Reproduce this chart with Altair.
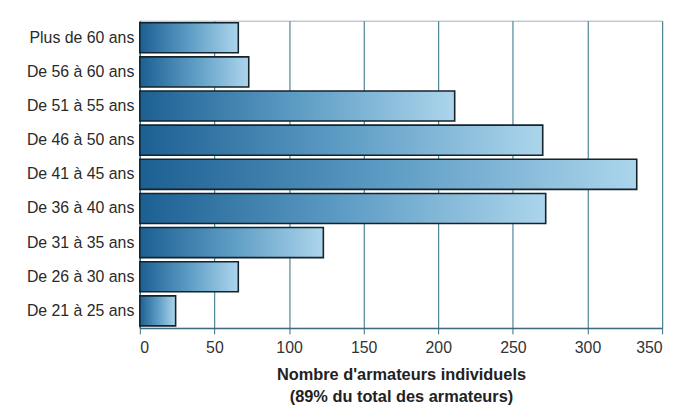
import altair as alt
import pandas as pd

categories = ["Plus de 60 ans", "De 56 à 60 ans", "De 51 à 55 ans", "De 46 à 50 ans",
              "De 41 à 45 ans", "De 36 à 40 ans", "De 31 à 35 ans", "De 26 à 30 ans",
              "De 21 à 25 ans"]
values = [66, 73, 211, 270, 333, 272, 123, 66, 24]
x_ticks = [0, 50, 100, 150, 200, 250, 300, 350]

df = pd.DataFrame({"cat": categories, "val": values})

grad = alt.Gradient(
    gradient="linear",
    stops=[alt.GradientStop(color="#1c5f92", offset=0),
           alt.GradientStop(color="#5d9cc4", offset=0.5),
           alt.GradientStop(color="#acd5ec", offset=1)],
    x1=0, x2=1, y1=0, y2=0,
)

chart = alt.Chart(df).mark_bar(
    color=grad, stroke="#15232b", strokeWidth=1.6
).encode(
    x=alt.X("val:Q",
            scale=alt.Scale(domain=[0, 350], nice=False),
            axis=alt.Axis(values=x_ticks, title=["Nombre d'armateurs individuels", "(89% du total des armateurs)"],
                          titleFontWeight="bold", titleFontSize=16.5, titleColor="#222222",
                          titleFont="Liberation Sans", titleLineHeight=22, titlePadding=11,
                          labelFont="Liberation Sans", labelFontSize=16, labelColor="#333333",
                          labelPadding=6, tickSize=6, tickColor="#3d6a7e", domainColor="#3d6a7e",
                          domainWidth=1.5, gridColor="#4f8398", gridWidth=1.2, grid=True,
                          gridOpacity=1)),
    y=alt.Y("cat:N", sort=categories,
            scale=alt.Scale(paddingInner=0.12, paddingOuter=0.06),
            axis=alt.Axis(title=None, labelFont="Liberation Sans", labelFontSize=16,
                          labelColor="#2a2a2a", ticks=False, labelPadding=6,
                          domainColor="#3d6a7e", domainWidth=1.5, grid=False)),
).properties(
    width=527, height=310,
    autosize=alt.AutoSizeParams(type="none"),
    padding={"left": 133, "top": 11, "right": 12, "bottom": 81},
).configure_view(stroke="#9ab2bd", strokeWidth=1)

chart.save("out.html", embed_options={"renderer": "svg", "actions": False})
